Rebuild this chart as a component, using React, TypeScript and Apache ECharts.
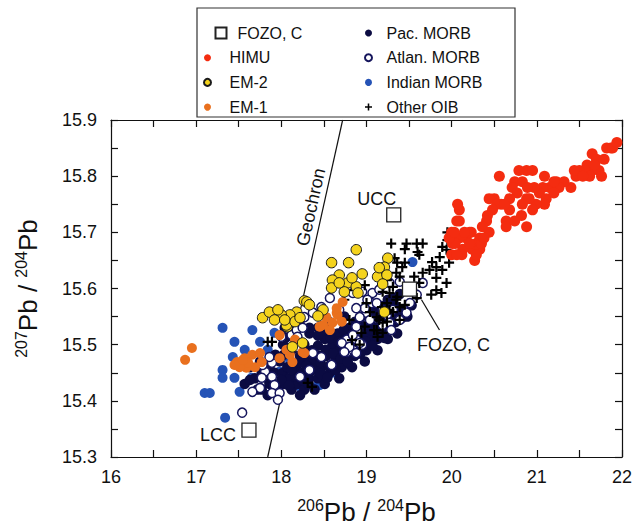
import React, { useEffect, useRef } from 'react';
import * as echarts from 'echarts';

const FONT = '"Liberation Sans", Arial, Helvetica, sans-serif';

const legendCol1a = ['FOZO, C'];
const legendCol1b = ['HIMU', 'EM-2', 'EM-1'];
const legendCol2 = ['Pac. MORB', 'Atlan. MORB', 'Indian MORB', 'Other OIB'];

const xRange = [16, 22];
const yRange = [15.3, 15.9];

const geochronLine = [[17.84, 15.3], [18.72, 15.9]];
const fozoLeader = [[19.646, 15.58], [19.857, 15.526]];

const fozo = [[19.505, 15.599]];
const crustNames = ['UCC', 'LCC'];
const crustPoints = [[19.32, 15.731], [17.62, 15.348]];

const himu = [
  [21.87, 15.85], [21.82, 15.85], [21.65, 15.84], [21.70, 15.83], [21.59, 15.82], [21.73, 15.81], [21.64, 15.81],
  [21.56, 15.81], [21.50, 15.81], [21.46, 15.80], [21.40, 15.78], [21.76, 15.80], [21.62, 15.80], [21.23, 15.79],
  [21.15, 15.78], [21.07, 15.78], [21.03, 15.77], [21.11, 15.76], [21.09, 15.75], [20.99, 15.75], [20.95, 15.74],
  [20.88, 15.81], [20.95, 15.81], [20.79, 15.81], [20.74, 15.79], [20.83, 15.79], [20.71, 15.78], [20.77, 15.77],
  [20.88, 15.76], [20.91, 15.76], [20.83, 15.75], [20.82, 15.73], [20.68, 15.74], [20.56, 15.80], [20.58, 15.75],
  [20.50, 15.76], [20.44, 15.76], [20.53, 15.75], [20.48, 15.74], [20.88, 15.71], [20.64, 15.72], [20.64, 15.71],
  [20.42, 15.73], [20.41, 15.72], [20.44, 15.70], [20.36, 15.71], [20.33, 15.69], [20.23, 15.70], [20.17, 15.69],
  [20.29, 15.68], [20.24, 15.67], [20.33, 15.67], [20.27, 15.65], [20.13, 15.67], [20.12, 15.66], [20.09, 15.74],
  [20.09, 15.72], [20.07, 15.75], [20.06, 15.72], [20.00, 15.70], [20.01, 15.68], [20.09, 15.69], [20.00, 15.66],
  [20.06, 15.66], [20.21, 15.70], [20.29, 15.66], [20.35, 15.68], [21.89, 15.85], [21.94, 15.86], [21.32, 15.79],
  [21.26, 15.78], [21.20, 15.77], [20.97, 15.78], [20.89, 15.78], [20.68, 15.76], [20.62, 15.75], [20.74, 15.72],
  [20.21, 15.68], [20.15, 15.70], [20.38, 15.69], [20.04, 15.68], [19.97, 15.69], [20.03, 15.70], [21.09, 15.80],
  [21.20, 15.79], [21.44, 15.81], [21.68, 15.82], [21.79, 15.83], [21.54, 15.80],
];

const em2 = [
  [18.88, 15.669], [18.59, 15.646], [18.79, 15.646], [19.25, 15.654], [19.21, 15.638], [18.68, 15.624], [18.95, 15.626],
  [18.60, 15.615], [18.78, 15.610], [18.88, 15.603], [18.59, 15.601], [18.90, 15.592], [18.74, 15.594], [19.13, 15.621],
  [19.24, 15.624], [18.27, 15.578], [18.49, 15.562], [18.43, 15.551], [19.21, 15.558], [18.18, 15.558], [18.10, 15.553],
  [18.00, 15.553], [18.07, 15.532], [18.13, 15.496], [18.25, 15.503], [17.78, 15.548], [17.86, 15.558], [17.96, 15.562],
  [17.92, 15.544], [18.06, 15.535], [18.16, 15.541], [18.30, 15.576], [18.68, 15.610], [18.83, 15.619], [19.15, 15.637],
  [19.19, 15.608], [18.33, 15.571], [18.04, 15.544], [18.22, 15.548],
];

const em1 = [
  [16.95, 15.494], [16.87, 15.473], [17.48, 15.469], [17.57, 15.476], [17.66, 15.482], [17.75, 15.485], [17.77, 15.469],
  [17.69, 15.460], [17.59, 15.459], [17.51, 15.460], [17.61, 15.468], [17.45, 15.464], [17.55, 15.473], [17.98, 15.517],
  [17.98, 15.476], [18.13, 15.469], [18.10, 15.482], [18.06, 15.491], [18.25, 15.487], [18.16, 15.509], [18.53, 15.549],
  [18.60, 15.539], [18.57, 15.526], [18.65, 15.557], [18.72, 15.576], [18.45, 15.532], [18.66, 15.553], [18.71, 15.541],
  [18.65, 15.565], [18.49, 15.535], [18.27, 15.485],
];

const indMorb = [
  [17.31, 15.530], [17.66, 15.526], [17.45, 15.505], [17.75, 15.505], [17.43, 15.478], [17.31, 15.455], [17.31, 15.441],
  [17.45, 15.441], [17.65, 15.441], [17.10, 15.414], [17.16, 15.414], [17.51, 15.416], [17.34, 15.370], [17.92, 15.521],
  [17.84, 15.491], [17.90, 15.478], [18.43, 15.428], [18.30, 15.437], [18.60, 15.450], [18.65, 15.473], [18.72, 15.473],
  [18.84, 15.491], [18.92, 15.514], [18.45, 15.428], [18.22, 15.425], [19.54, 15.647], [18.90, 15.517], [18.10, 15.473],
  [17.98, 15.452], [17.81, 15.464], [17.57, 15.491],
];

const pacMorb = [
  [17.57, 15.43], [17.69, 15.44], [17.77, 15.42], [17.86, 15.43], [17.96, 15.42], [18.04, 15.43], [18.12, 15.42],
  [17.92, 15.45], [18.02, 15.45], [18.10, 15.44], [18.19, 15.43], [18.27, 15.42], [18.07, 15.46], [18.17, 15.46],
  [18.25, 15.45], [18.33, 15.44], [18.43, 15.44], [18.22, 15.48], [18.31, 15.47], [18.39, 15.46], [18.47, 15.46],
  [18.57, 15.45], [18.36, 15.49], [18.45, 15.48], [18.53, 15.48], [18.63, 15.47], [18.71, 15.46], [18.51, 15.51],
  [18.60, 15.50], [18.68, 15.49], [18.78, 15.48], [18.86, 15.48], [18.66, 15.52], [18.75, 15.51], [18.84, 15.51],
  [18.92, 15.50], [19.00, 15.49], [18.80, 15.53], [18.90, 15.53], [18.98, 15.52], [19.06, 15.51], [19.13, 15.51],
  [18.94, 15.55], [19.04, 15.54], [19.12, 15.53], [19.20, 15.53], [19.09, 15.56], [19.19, 15.56], [19.27, 15.55],
  [19.34, 15.54], [19.25, 15.58], [19.33, 15.57], [19.41, 15.56], [19.39, 15.59], [17.98, 15.47], [18.12, 15.49],
  [18.27, 15.50], [18.16, 15.51], [18.02, 15.50], [17.86, 15.46], [17.77, 15.45], [17.84, 15.41], [18.22, 15.41],
  [18.39, 15.42], [18.51, 15.43], [18.68, 15.44], [18.83, 15.46], [18.98, 15.47], [19.13, 15.49], [19.25, 15.51],
  [19.36, 15.52], [19.48, 15.55], [19.53, 15.57], [17.75, 15.47], [17.63, 15.46], [18.04, 15.53], [18.22, 15.535],
  [18.33, 15.52], [18.43, 15.53], [18.57, 15.54], [18.74, 15.55],
  [17.63, 15.437], [17.72, 15.420], [17.82, 15.441], [17.91, 15.423], [18.00, 15.437], [18.09, 15.427], [18.17, 15.444],
  [18.24, 15.437], [18.32, 15.430], [18.12, 15.455], [18.20, 15.469], [18.29, 15.462], [18.37, 15.455], [18.46, 15.448],
  [18.54, 15.441], [18.29, 15.484], [18.38, 15.476], [18.46, 15.469], [18.56, 15.462], [18.64, 15.455], [18.43, 15.498],
  [18.52, 15.491], [18.61, 15.484], [18.70, 15.476], [18.78, 15.469], [18.58, 15.512], [18.67, 15.505], [18.75, 15.498],
  [18.85, 15.491], [18.93, 15.484], [18.73, 15.526], [18.83, 15.519], [18.91, 15.512], [18.99, 15.505], [19.07, 15.498],
  [18.87, 15.541], [18.97, 15.533], [19.05, 15.526], [19.13, 15.519], [19.21, 15.512], [19.02, 15.555], [19.12, 15.548],
  [19.20, 15.541], [19.28, 15.533], [19.17, 15.569], [19.26, 15.562], [19.34, 15.555], [19.42, 15.548], [19.32, 15.583],
  [18.03, 15.482], [17.93, 15.482], [18.05, 15.512], [18.15, 15.526], [18.33, 15.530], [18.43, 15.516], [18.52, 15.526],
];

const atlMorb = [
  [17.89, 15.468], [17.81, 15.452], [17.77, 15.441], [17.89, 15.443], [17.75, 15.423], [17.66, 15.416], [17.92, 15.428],
  [17.89, 15.414], [17.98, 15.414], [17.96, 15.402], [17.54, 15.379], [18.00, 15.514], [18.12, 15.517], [18.18, 15.526],
  [18.19, 15.514], [18.18, 15.496], [17.78, 15.464], [17.86, 15.478], [18.37, 15.557], [18.47, 15.567], [18.57, 15.583],
  [18.68, 15.562], [18.77, 15.487], [18.84, 15.491], [18.95, 15.500], [18.88, 15.509], [18.77, 15.509], [18.90, 15.526],
  [19.00, 15.557], [19.06, 15.574], [19.07, 15.592], [19.24, 15.553], [19.31, 15.562], [19.27, 15.539], [18.84, 15.592],
  [18.95, 15.594], [19.01, 15.580], [19.12, 15.574], [18.98, 15.565], [18.88, 15.565], [18.92, 15.549], [19.04, 15.544],
  [18.88, 15.532], [18.84, 15.517], [18.71, 15.503], [18.80, 15.496], [18.92, 15.503], [18.88, 15.485], [18.74, 15.487],
  [18.59, 15.464], [18.47, 15.478], [18.37, 15.485], [18.33, 15.455], [18.22, 15.443], [18.27, 15.549], [18.19, 15.548],
  [18.25, 15.530], [19.15, 15.598], [19.27, 15.610], [19.39, 15.612], [19.19, 15.535], [19.29, 15.526], [19.39, 15.544],
  [19.47, 15.557], [19.66, 15.610], [19.19, 15.562], [19.51, 15.574], [19.59, 15.589],
];

const otherOib = [
  [19.29, 15.68], [19.47, 15.68], [19.59, 15.68], [19.66, 15.68], [19.45, 15.67], [19.60, 15.665], [19.62, 15.66],
  [19.89, 15.674], [19.94, 15.669], [19.86, 15.656], [19.77, 15.647], [19.82, 15.638], [19.74, 15.633], [19.82, 15.619],
  [19.89, 15.633], [19.97, 15.646], [19.94, 15.61], [19.82, 15.597], [19.76, 15.589], [19.88, 15.592], [19.66, 15.628],
  [19.56, 15.621], [19.62, 15.61], [19.39, 15.621], [19.31, 15.603], [19.27, 15.592], [19.35, 15.58], [19.24, 15.574],
  [19.18, 15.567], [19.12, 15.549], [19.19, 15.539], [19.09, 15.526], [19.04, 15.558], [19.00, 15.574], [19.51, 15.597],
  [19.59, 15.583], [19.45, 15.571], [19.31, 15.558], [18.98, 15.532], [18.94, 15.521], [19.13, 15.514], [19.95, 15.686],
  [19.95, 15.70], [19.36, 15.646], [19.42, 15.638], [19.35, 15.628], [19.24, 15.615], [19.19, 15.594], [19.36, 15.585],
  [19.39, 15.567], [19.27, 15.562], [19.39, 15.544], [19.24, 15.541], [19.33, 15.654], [19.45, 15.646], [19.24, 15.557],
  [19.15, 15.544], [19.19, 15.521], [19.12, 15.526], [18.31, 15.432], [18.36, 15.425], [17.84, 15.505], [17.89, 15.505],
  [18.86, 15.597], [18.74, 15.58], [18.98, 15.606], [18.80, 15.544], [18.92, 15.50], [18.83, 15.508],
];

const PLUS = 'path://M3.9,0H6.1V3.9H10V6.1H6.1V10H3.9V6.1H0V3.9H3.9Z';

export default function App() {
  const ref = useRef<HTMLDivElement>(null);
  useEffect(() => {
    if (!ref.current) return;
    const chart = echarts.init(ref.current, undefined, { renderer: 'svg' });
    const legendText = { fontFamily: FONT, fontSize: 16, color: '#111', lineHeight: 20 };
    const axisCommon = {
      type: 'value' as const,
      axisLine: { show: true, lineStyle: { color: '#111', width: 1.2 } },
      axisTick: { show: true, inside: true, length: 7, lineStyle: { color: '#111', width: 1.2 } },
      splitLine: { show: false },
    };
    const titleRich = {
      b: { fontFamily: FONT, fontSize: 26, lineHeight: 30, color: '#111' },
      sup: { fontFamily: FONT, fontSize: 16, lineHeight: 20, color: '#111', verticalAlign: 'top' as const },
    };
    const scatter = (name: string, data: number[][], size: number, itemStyle: any, symbol = 'circle') => ({
      name, type: 'scatter', data, symbol, symbolSize: size, itemStyle: { opacity: 1, ...itemStyle }, silent: true,
    });
    chart.setOption({
      animation: false,
      textStyle: { fontFamily: FONT },
      grid: { left: 111, top: 120, right: 12, bottom: 73 },
      graphic: [
        { type: 'rect', z: 0, shape: { x: 197, y: 8, width: 318, height: 109 }, style: { fill: '#fff', stroke: '#333', lineWidth: 1.2 } },
        {
          type: 'text', z: 10, x: 311, y: 207, rotation: (77.6 * Math.PI) / 180,
          style: { text: 'Geochron', font: `18px ${FONT}`, fill: '#111', align: 'center', verticalAlign: 'middle' },
        },
      ],
      legend: [
        {
          data: legendCol1a, orient: 'vertical', left: 209.5, top: 18, itemWidth: 11, itemHeight: 11, itemGap: 4.7,
          selectedMode: false, textStyle: { ...legendText, padding: [0, 0, 0, 6] },
        },
        { data: legendCol1b, orient: 'vertical', left: 198, top: 42.7, itemWidth: 34, itemHeight: 7, itemGap: 4.7, selectedMode: false, textStyle: legendText },
        { data: legendCol2, orient: 'vertical', left: 359, top: 18, itemWidth: 26, itemHeight: 7, itemGap: 4.7, selectedMode: false, textStyle: legendText },
      ],
      xAxis: [
        {
          ...axisCommon, min: xRange[0], max: xRange[1], interval: 0.5, position: 'bottom',
          axisLabel: {
            margin: 11, fontSize: 18, color: '#111', fontFamily: FONT,
            formatter: (v: number) => (Number.isInteger(v) ? String(v) : ''),
          },
          name: '{sup|206}{b|Pb / }{sup|204}{b|Pb}', nameLocation: 'middle', nameGap: 40,
          nameTextStyle: { rich: titleRich },
        },
        { ...axisCommon, min: xRange[0], max: xRange[1], interval: 0.5, position: 'top', axisLabel: { show: false } },
      ],
      yAxis: [
        {
          ...axisCommon, min: yRange[0], max: yRange[1], interval: 0.05, position: 'left',
          axisLabel: {
            margin: 14, fontSize: 18, color: '#111', fontFamily: FONT,
            formatter: (v: number) => {
              const r = Math.round(v * 100);
              return r % 10 === 0 ? (r / 100).toFixed(1) : '';
            },
          },
          name: '{sup|207}{b|Pb / }{sup|204}{b|Pb}', nameLocation: 'middle', nameGap: 68, nameRotate: 90,
          nameTextStyle: { rich: titleRich },
        },
        { ...axisCommon, min: yRange[0], max: yRange[1], interval: 0.05, position: 'right', axisLabel: { show: false } },
      ],
      series: [
        {
          name: 'Geochron', type: 'line', data: geochronLine, symbol: 'none', silent: true,
          lineStyle: { color: '#111', width: 1.2 }, z: 1,
        },
        scatter('Indian MORB', indMorb, 10, { color: '#2553b6' }),
        scatter('Pac. MORB', pacMorb, 10.5, { color: '#0b0b42' }),
        scatter('Atlan. MORB', atlMorb, 9, { color: '#ffffff', borderColor: '#15155c', borderWidth: 1.5 }),
        scatter('Other OIB', otherOib, 10, { color: '#000000' }, PLUS),
        scatter('EM-1', em1, 10, { color: '#e9701e' }),
        scatter('EM-2', em2, 10.5, { color: '#f4d31d', borderColor: '#1a1a1a', borderWidth: 1 }),
        scatter('HIMU', himu, 11, { color: '#f42c10' }),
        {
          name: 'FOZO leader', type: 'line', data: fozoLeader, symbol: 'none', silent: true,
          lineStyle: { color: '#111', width: 1.2 },
        },
        {
          name: 'FOZO, C', type: 'scatter', symbol: 'rect', symbolSize: 14, silent: true,
          data: fozo,
          itemStyle: { opacity: 1, color: '#ffffff', borderColor: '#222', borderWidth: 1.3 },
          label: {
            show: true, position: 'inside', offset: [44, 56], formatter: 'FOZO, C',
            fontFamily: FONT, fontSize: 18, color: '#111',
          },
        },
        {
          name: 'Crust', type: 'scatter', symbol: 'rect', symbolSize: 14, silent: true,
          data: crustPoints.map((p, i) => ({
            name: crustNames[i], value: p,
            label: { offset: i === 0 ? [-17, -16] : [-31, 5] },
          })),
          itemStyle: { opacity: 1, color: '#ffffff', borderColor: '#222', borderWidth: 1.3 },
          label: { show: true, position: 'inside', formatter: '{b}', fontFamily: FONT, fontSize: 18, color: '#111' },
        },
      ],
    });
    return () => chart.dispose();
  }, []);
  return <div ref={ref} style={{ position: 'absolute', left: 0, top: 0, width: 635, height: 530 }} />;
}
